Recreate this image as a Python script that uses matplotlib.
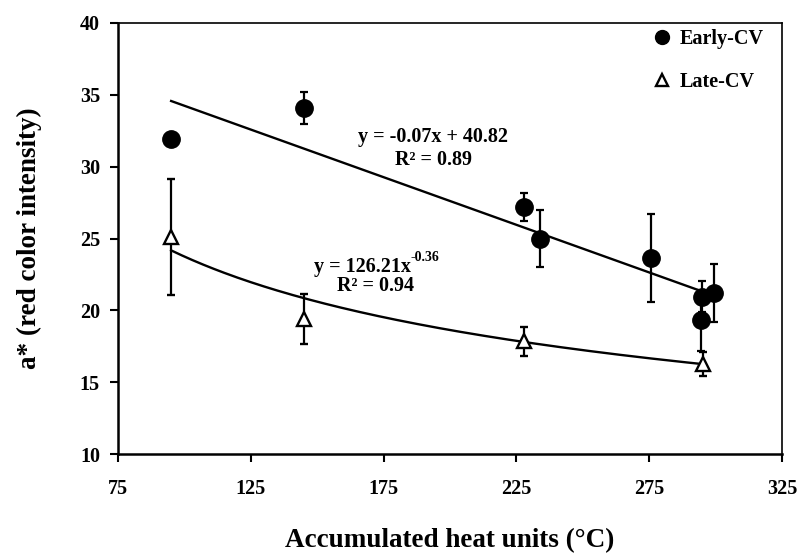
import numpy as np
import matplotlib
matplotlib.use("Agg")
import matplotlib.pyplot as plt
from matplotlib.lines import Line2D

plt.rcParams['font.family'] = ['Liberation Serif', 'DejaVu Serif']
plt.rcParams['font.weight'] = 'bold'

# --- DATA ---
early_x = [95, 145, 228, 234, 275.7, 294.7, 294.5, 299.4]
early_y = [31.9, 34.1, 27.2, 25.0, 23.65, 20.95, 19.3, 21.2]
early_err = [0.4, 1.1, 1.0, 1.95, 3.05, 1.1, 2.1, 2.03]

late_x = [95, 145, 228, 295.4]
late_y = [25.1, 19.4, 17.85, 16.25]
late_err = [4.05, 1.75, 1.0, 0.85]

# trend lines as drawn in the figure
lin_slope, lin_icpt = -0.0663, 40.87
pow_a, pow_b = 119.0, -0.350
trend_x = [95, 294]

x_ticks = [75, 125, 175, 225, 275, 325]
y_ticks = [10, 15, 20, 25, 30, 35, 40]

# --- PLOTTING ---
fig = plt.figure(figsize=(8.02, 5.57), dpi=100)
ax = fig.add_axes([118 / 802, 1 - 454 / 557, 664 / 802, 431 / 557])

tx = np.linspace(trend_x[0], trend_x[1], 200)
ax.plot(tx, lin_slope * tx + lin_icpt, color='black', lw=1.7, zorder=2)
ax.plot(tx, pow_a * tx ** pow_b, color='black', lw=1.7, zorder=2)

ax.errorbar(early_x, early_y, yerr=early_err, fmt='o', color='black',
            ms=12.5, ecolor='black', elinewidth=1.6, capsize=2.6, capthick=1.6, zorder=3)
ax.errorbar(late_x, late_y, yerr=late_err, fmt='^', color='black', mfc='white',
            mec='black', mew=1.7, ms=10.5, ecolor='black', elinewidth=1.6,
            capsize=2.6, capthick=1.6, zorder=3)

eq_size = 14.5
ax.text(193.6, 32.07, "y = -0.07x + 40.82", ha='center', va='center', fontsize=eq_size, fontweight='bold')
ax.text(193.6, 30.47, "R² = 0.89", ha='center', va='center', fontsize=eq_size, fontweight='bold')
base = ax.text(185.3, 23.05, "y = 126.21x", ha='right', va='center', fontsize=eq_size, fontweight='bold')
ax.annotate("-0.36", xy=(1.0, 0.62), xycoords=base, ha='left', va='bottom',
            fontsize=10, fontweight='bold')
ax.text(171.8, 21.7, "R² = 0.94", ha='center', va='center', fontsize=eq_size, fontweight='bold')

ax.set_xlim(75, 325)
ax.set_ylim(10, 40)
ax.set_xticks(x_ticks)
ax.set_yticks(y_ticks)
ax.tick_params(direction='out', length=6, width=1.5, labelsize=14.5)
ax.tick_params(axis='x', pad=12)
ax.tick_params(axis='y', pad=7)
for lbl in ax.get_xticklabels() + ax.get_yticklabels():
    lbl.set_fontweight('bold')

for side in ['left', 'bottom']:
    ax.spines[side].set_linewidth(1.8)
for side in ['top', 'right']:
    ax.spines[side].set_linewidth(1.2)

ax.set_xlabel("Accumulated heat units (°C)", fontsize=19.5, fontweight='bold', labelpad=21)
ax.set_ylabel("a* (red color intensity)", fontsize=19.5, fontweight='bold', labelpad=27)

handles = [
    Line2D([], [], ls='none', marker='o', color='black', ms=10),
    Line2D([], [], ls='none', marker='^', color='black', mfc='white', mew=1.7, ms=9),
]
ax.legend(handles, ["Early-CV", "Late-CV"], loc='upper right', bbox_to_anchor=(0.972, 0.986),
          frameon=False, prop={'size': 14.5, 'weight': 'bold'}, handlelength=1.0,
          handletextpad=0.35, labelspacing=1.15, borderaxespad=0.0, borderpad=0.0)

fig.savefig("out.png", dpi=100)
plt.close(fig)
